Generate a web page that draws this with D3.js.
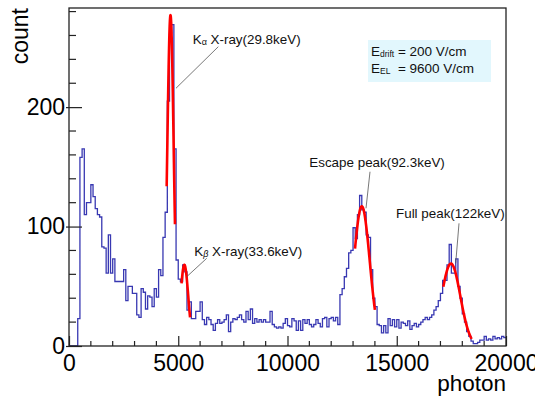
<!DOCTYPE html>
<html><head><meta charset="utf-8">
<script src="https://cdn.jsdelivr.net/npm/d3@7/dist/d3.min.js"></script>
<style>body{margin:0;background:#fff}svg{display:block}</style>
</head><body>
<svg id="c" width="535" height="396"></svg>
<script>
// ---- data ----
const binWidth = 100;           // photon per bin, 200 bins from 0 to 20000
const counts = [
  0,0,0,0,23, 158,165,110,120,120, 135,125,115,110,108, 83,82,61,93,61,
  73,54,54,54,54, 64,38,50,50,44, 44,26,24,48,45, 31,42,41,33,48,
  41,64,59,91,112, 205,262,269,165,72, 56,54,68,62,30, 37,23,23,29,29,
  37,22,18,24,22, 18,13,19,22,19, 20,22,26,12,20, 23,22,24,26,22,
  20,29,22,31,19, 23,20,22,20,22, 20,20,29,18,16, 15,16,15,19,23,
  17,16,23,21,13, 21,13,22,19,22, 18,16,18,22,19, 16,23,24,16,23,
  24,21,24,18,43, 48,58,65,78,80, 99,90,110,126,114, 112,93,91,64,40,
  33,18,17,11,17, 11,23,17,22,16, 22,15,20,19,17, 21,14,17,19,16,
  18,20,22,24,22, 24,26,30,33,38, 44,55,55,68,85, 61,61,73,50,40,
  27,20,12,8,4, 2,2,3,5,5, 8,5,6,5,8, 6,7,6,8,7
];
const xTicks = [0, 5000, 10000, 15000, 20000];
const yTicks = [0, 100, 200];
// Gaussian fits
const fitAmp   = [277, 68, 117, 69];
const fitMean  = [4645, 5280, 13400, 17480];
const fitSigma = [145, 180, 365, 430];
const fitLo    = [4470, 5150, 13090, 17130];
const fitHi    = [4850, 5540, 14000, 18430];
const peakLabels = ["X-ray(29.8keV)", "X-ray(33.6keV)", "Escape peak(92.3keV)", "Full peak(122keV)"];
const legendLines = [["E","drift"," = 200 V/cm"],["E","EL","  = 9600 V/cm"]];

// ---- layout ----
const svg = d3.select("#c");
const L = 69, R = 506, T = 8, B = 346;
const x = d3.scaleLinear().domain([0, 20000]).range([L, R]);
const y = d3.scaleLinear().domain([0, 283]).range([B, T]);
const font = "'Liberation Sans', Arial, Helvetica, sans-serif";

svg.append("rect").attr("width",535).attr("height",396).attr("fill","#fff");

// histogram
const pts = counts.map((c,i)=>[i*binWidth, c]);
pts.push([counts.length*binWidth, counts[counts.length-1]]);
svg.append("path")
  .attr("d", d3.line().x(d=>x(d[0])).y(d=>y(d[1])).curve(d3.curveStepAfter)(pts))
  .attr("fill","none").attr("stroke","#3838b2").attr("stroke-width",1.3);

// fits
fitAmp.forEach((a,k)=>{
  const n = 80, lo = fitLo[k], hi = fitHi[k];
  const fp = d3.range(n+1).map(j=>{
    const v = lo + (hi-lo)*j/n;
    return [v, a*Math.exp(-Math.pow(v-fitMean[k],2)/(2*fitSigma[k]*fitSigma[k]))];
  });
  svg.append("path")
    .attr("d", d3.line().x(d=>x(d[0])).y(d=>y(d[1]))(fp))
    .attr("fill","none").attr("stroke","#ff0000").attr("stroke-width",2.6)
    .attr("stroke-linejoin","round");
});

// frame
svg.append("rect").attr("x",L).attr("y",T).attr("width",R-L).attr("height",B-T)
  .attr("fill","none").attr("stroke","#222").attr("stroke-width",1.3);

// x axis
const xAxis = d3.axisBottom(x).tickValues(xTicks).tickSize(-10).tickFormat(d3.format("d")).tickPadding(7);
const gx = svg.append("g").attr("transform",`translate(0,${B})`).call(xAxis);
gx.select(".domain").remove();
const xMinor = d3.range(0, 20001, 1000).filter(v=>v%5000!==0);
svg.append("g").selectAll("line").data(xMinor).join("line")
  .attr("x1",d=>x(d)).attr("x2",d=>x(d)).attr("y1",B).attr("y2",B-5)
  .attr("stroke","#222").attr("stroke-width",1.2);
gx.selectAll("line").attr("stroke","#222").attr("stroke-width",1.2);
gx.selectAll("text").attr("font-family",font).attr("font-size",23).attr("fill","#000")
  .attr("dy","0.78em");

// y axis
const yAxis = d3.axisLeft(y).tickValues(yTicks).tickSize(-13).tickFormat(d3.format("d")).tickPadding(4);
const gy = svg.append("g").attr("transform",`translate(${L},0)`).call(yAxis);
gy.select(".domain").remove();
gy.selectAll("line").attr("stroke","#222").attr("stroke-width",1.2).attr("x1",-3);
const yMinor = d3.range(0, 281, 20).filter(v=>v%100!==0);
svg.append("g").selectAll("line").data(yMinor).join("line")
  .attr("x1",L).attr("x2",L+7).attr("y1",d=>y(d)).attr("y2",d=>y(d))
  .attr("stroke","#222").attr("stroke-width",1.2);
gy.selectAll("text").attr("font-family",font).attr("font-size",23).attr("fill","#000");

// axis titles
svg.append("text").attr("transform","translate(28,8) rotate(-90)")
  .attr("text-anchor","end").attr("font-family",font).attr("font-size",23).text("count");
svg.append("text").attr("x",R).attr("y",391)
  .attr("text-anchor","end").attr("font-family",font).attr("font-size",22.5).text("photon");

// annotations (anchors in data units)
const ann = [
  {t:[5661,252.6], sub:"α", l1:[6833,250.6], l2:[4897,215.8]},
  {t:[5735,75.4],  sub:"β", l1:[6302,73.4],  l2:[5387,58]},
  {t:[10998,150.1], sub:null, l1:[13776,145.9], l2:[13593,115.3]},
  {t:[14966,106.9], sub:null, l1:[17849,102.7], l2:[17698,69.2]}
];
ann.forEach((a,k)=>{
  svg.append("line").attr("x1",x(a.l1[0])).attr("y1",y(a.l1[1]))
    .attr("x2",x(a.l2[0])).attr("y2",y(a.l2[1]))
    .attr("stroke","#555").attr("stroke-width",0.8);
  const t = svg.append("text").attr("x",x(a.t[0])).attr("y",y(a.t[1]))
    .attr("font-family",font).attr("font-size",13.4).attr("fill","#111");
  if (a.sub) {
    t.append("tspan").text("K");
    t.append("tspan").attr("font-size",9).attr("dy",1)
      .attr("font-style", a.sub==="β" ? "italic" : "normal").text(a.sub);
    t.append("tspan").attr("dy",-1).text(" " + peakLabels[k]);
  } else {
    t.text(peakLabels[k]);
  }
});

// legend box
svg.append("rect").attr("x",368).attr("y",40).attr("width",123).attr("height",42)
  .attr("fill","#e2f7fd");
legendLines.forEach((ln,i)=>{
  const t = svg.append("text").attr("x",371).attr("y",56 + i*17.3)
    .attr("font-family",font).attr("font-size",13.5).attr("fill","#111")
    .attr("xml:space","preserve").style("white-space","pre");
  t.append("tspan").text(ln[0]);
  t.append("tspan").attr("font-size",8.5).attr("dy",1).text(ln[1]);
  t.append("tspan").attr("dy",-1).text(ln[2]);
});
</script>
</body></html>
